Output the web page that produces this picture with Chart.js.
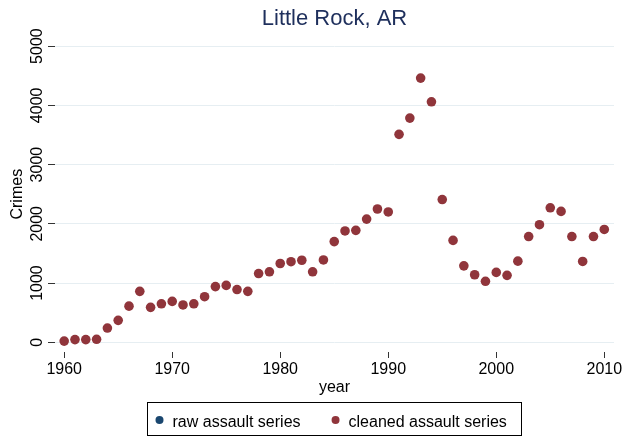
<!DOCTYPE html>
<html>
<head>
<meta charset="utf-8">
<script src="https://cdn.jsdelivr.net/npm/chart.js@4/dist/chart.umd.min.js"></script>
<style>
  body { margin: 0; background: #fff; }
  canvas { display: block; }
</style>
</head>
<body>
<canvas id="chart" width="625" height="437"></canvas>
<script>
const years = [1960, 1961, 1962, 1963, 1964, 1965, 1966, 1967, 1968, 1969,
               1970, 1971, 1972, 1973, 1974, 1975, 1976, 1977, 1978, 1979,
               1980, 1981, 1982, 1983, 1984, 1985, 1986, 1987, 1988, 1989,
               1990, 1991, 1992, 1993, 1994, 1995, 1996, 1997, 1998, 1999,
               2000, 2001, 2002, 2003, 2004, 2005, 2006, 2007, 2008, 2009, 2010];
const rawAssault = [20, 45, 45, 50, 240, 370, 610, 860, 590, 650,
                    690, 630, 650, 770, 940, 960, 890, 860, 1160, 1190,
                    1330, 1360, 1385, 1190, 1390, 1700, 1880, 1890, 2080, 2250,
                    2200, 3510, 3785, 4460, 4060, 2410, 1720, 1290, 1140, 1030,
                    1180, 1130, 1370, 1785, 1985, 2270, 2210, 1785, 1365, 1785, 1905];
const cleanedAssault = [20, 45, 45, 50, 240, 370, 610, 860, 590, 650,
                        690, 630, 650, 770, 940, 960, 890, 860, 1160, 1190,
                        1330, 1360, 1385, 1190, 1390, 1700, 1880, 1890, 2080, 2250,
                        2200, 3510, 3785, 4460, 4060, 2410, 1720, 1290, 1140, 1030,
                        1180, 1130, 1370, 1785, 1985, 2270, 2210, 1785, 1365, 1785, 1905];
const xTicks = [1960, 1970, 1980, 1990, 2000, 2010];
const yTicks = [0, 1000, 2000, 3000, 4000, 5000];

const FONT = '"Liberation Sans", Arial, sans-serif';
const navy = '#1a476f';
const maroon = '#90353b';

const toPoints = (vals) => vals.map((v, i) => ({x: years[i], y: v}));

// y tick labels are rotated like Stata draws them
const rotatedYLabels = {
    id: 'rotatedYLabels',
    afterDraw(chart) {
        const {ctx} = chart;
        const y = chart.scales.y;
        ctx.save();
        ctx.font = '16px ' + FONT;
        ctx.fillStyle = '#000';
        ctx.textAlign = 'center';
        ctx.textBaseline = 'alphabetic';
        yTicks.forEach((v) => {
            ctx.save();
            ctx.translate(42, y.getPixelForValue(v));
            ctx.rotate(-Math.PI / 2);
            ctx.fillText(String(v), 0, 0);
            ctx.restore();
        });
        ctx.restore();
    },
};

// boxed legend under the plot, centred on the plot region
const boxedLegend = {
    id: 'boxedLegend',
    afterDraw(chart) {
        const {ctx, chartArea} = chart;
        ctx.save();
        ctx.font = '16px ' + FONT;
        const items = chart.data.datasets.map((ds) => ({
            label: ds.label,
            color: ds.backgroundColor,
            w: ctx.measureText(ds.label).width,
        }));
        const r = 4, gap = 9, between = 31, padL = 8, padR = 15;
        let content = between * (items.length - 1);
        items.forEach((it) => { content += 2 * r + gap + it.w; });
        const boxW = content + padL + padR;
        const cx = (chartArea.left + chartArea.right) / 2;
        const left = Math.round(cx - boxW / 2) + 0.5;
        const top = 402.5, bottom = 435.5;
        ctx.strokeStyle = '#000';
        ctx.lineWidth = 1;
        ctx.strokeRect(left, top, Math.round(boxW), bottom - top);

        let x = left + padL;
        items.forEach((it) => {
            ctx.fillStyle = it.color;
            ctx.beginPath();
            ctx.arc(x + r, 420, r, 0, Math.PI * 2);
            ctx.fill();
            x += 2 * r + gap;
            ctx.fillStyle = '#000';
            ctx.textBaseline = 'alphabetic';
            ctx.fillText(it.label, x, 426.5);
            x += it.w + between;
        });
        ctx.restore();
    },
};

new Chart(document.getElementById('chart'), {
    type: 'scatter',
    data: {
        datasets: [
            {
                label: 'raw assault series',
                data: toPoints(rawAssault),
                backgroundColor: navy,
                borderColor: navy,
                pointRadius: 3.8,
                borderWidth: 0,
                order: 2,
            },
            {
                label: 'cleaned assault series',
                data: toPoints(cleanedAssault),
                backgroundColor: maroon,
                borderColor: maroon,
                pointRadius: 4.8,
                borderWidth: 0,
                order: 1,
            },
        ],
    },
    options: {
        responsive: false,
        animation: false,
        layout: {
            padding: {left: 0, right: 11, top: 0, bottom: 34},
        },
        plugins: {
            legend: {display: false},
            tooltip: {enabled: false},
            title: {
                display: true,
                text: 'Little Rock, AR',
                fullSize: false,
                color: '#1e2f5c',
                font: {family: FONT, size: 22, weight: 'normal'},
                padding: {top: 6, bottom: 4},
            },
        },
        scales: {
            x: {
                type: 'linear',
                min: 1959.15,
                max: 2010.9,
                afterBuildTicks: (scale) => {
                    scale.ticks = xTicks.map((v) => ({value: v}));
                },
                afterFit: (scale) => {
                    scale.height = 51;
                },
                border: {display: false},
                grid: {
                    drawOnChartArea: false,
                    tickLength: 6,
                    tickColor: '#333',
                },
                ticks: {
                    color: '#000',
                    padding: 2,
                    maxRotation: 0,
                    font: {family: FONT, size: 16},
                    callback: (v) => String(v),
                },
                title: {
                    display: true,
                    text: 'year',
                    color: '#000',
                    font: {family: FONT, size: 16},
                    padding: {top: 0, bottom: 6},
                },
            },
            y: {
                min: -164,
                max: 5164,
                afterBuildTicks: (scale) => {
                    scale.ticks = yTicks.map((v) => ({value: v}));
                },
                afterFit: (scale) => {
                    scale.width = 55;
                },
                border: {display: false},
                grid: {
                    color: '#e6eef2',
                    tickLength: 7,
                    tickColor: '#333',
                },
                ticks: {display: false},
                title: {
                    display: true,
                    text: 'Crimes',
                    color: '#000',
                    font: {family: FONT, size: 16},
                    padding: {top: 8, bottom: 0},
                },
            },
        },
    },
    plugins: [rotatedYLabels, boxedLegend],
});
</script>
</body>
</html>
